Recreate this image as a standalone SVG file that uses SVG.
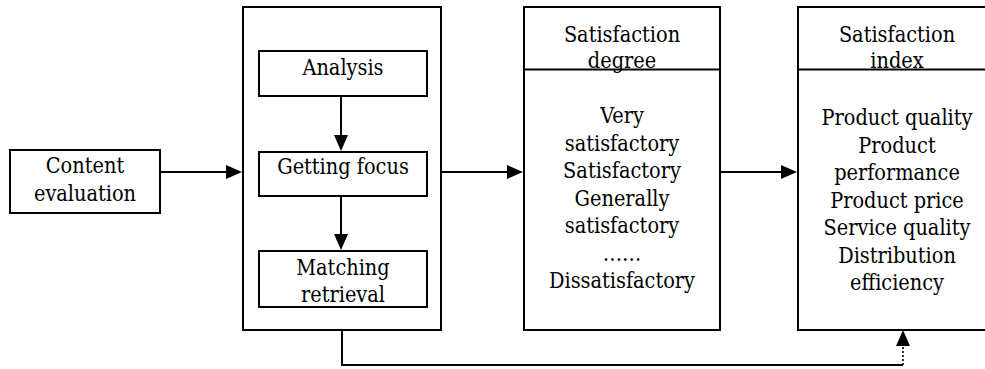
<svg xmlns="http://www.w3.org/2000/svg" width="985" height="369" viewBox="0 0 985 369">
  <style>
    .box { fill: #ffffff; stroke: #000000; stroke-width: 2; }
    .rule { stroke: #000000; stroke-width: 2; fill: none; }
    .conn { stroke: #000000; stroke-width: 2; fill: none; }
    .dotted { stroke: #000000; stroke-width: 1.6; fill: none; stroke-dasharray: 2 2; }
    text { font-family: 'DejaVu Serif Condensed', 'DejaVu Serif', serif; font-stretch: condensed; font-size: 21.5px; fill: #000000; text-anchor: middle; }
  </style>
  <defs>
    <marker id="arrow" viewBox="0 0 16 14" refX="0" refY="7" markerWidth="16" markerHeight="14" markerUnits="userSpaceOnUse" orient="auto">
      <path d="M0,0 L16,7 L0,14 Z" fill="#000000"/>
    </marker>
  </defs>

  <!-- Content evaluation -->
  <g id="content-evaluation">
    <rect class="box" x="10" y="150" width="150" height="63"/>
    <text x="85" y="173">Content</text>
    <text x="85" y="201">evaluation</text>
  </g>

  <!-- Processing stage with three steps -->
  <g id="processing">
    <rect class="box" x="243" y="7" width="198" height="323"/>
  </g>
  <g id="analysis">
    <rect class="box" x="259" y="51" width="168" height="45"/>
    <text x="343" y="75">Analysis</text>
  </g>
  <g id="getting-focus">
    <rect class="box" x="259" y="152" width="168" height="44"/>
    <text x="343" y="174">Getting focus</text>
  </g>
  <g id="matching-retrieval">
    <rect class="box" x="259" y="251" width="168" height="56"/>
    <text x="343" y="275">Matching</text>
    <text x="343" y="302">retrieval</text>
  </g>

  <!-- Satisfaction degree -->
  <g id="satisfaction-degree">
    <rect class="box" x="524" y="7" width="196" height="323"/>
    <line class="rule" x1="524" y1="69.5" x2="720" y2="69.5"/>
    <text x="622" y="42">Satisfaction</text>
    <text x="622" y="68">degree</text>
    <text x="622" y="123">Very</text>
    <text x="622" y="150.5">satisfactory</text>
    <text x="622" y="178">Satisfactory</text>
    <text x="622" y="205.5">Generally</text>
    <text x="622" y="233">satisfactory</text>
    <text x="622" y="260.5">……</text>
    <text x="622" y="288">Dissatisfactory</text>
  </g>

  <!-- Satisfaction index -->
  <g id="satisfaction-index">
    <rect class="box" x="798" y="7" width="196" height="323"/>
    <line class="rule" x1="798" y1="69.5" x2="994" y2="69.5"/>
    <text x="897" y="42">Satisfaction</text>
    <text x="897" y="68">index</text>
    <text x="897" y="125">Product quality</text>
    <text x="897" y="152.5">Product</text>
    <text x="897" y="180">performance</text>
    <text x="897" y="207.5">Product price</text>
    <text x="897" y="235">Service quality</text>
    <text x="897" y="262.5">Distribution</text>
    <text x="897" y="290">efficiency</text>
  </g>

  <!-- Connectors -->
  <g id="connectors">
    <line class="conn" x1="160" y1="172" x2="226" y2="172" marker-end="url(#arrow)"/>
    <line class="conn" x1="341" y1="96" x2="341" y2="135" marker-end="url(#arrow)"/>
    <line class="conn" x1="341" y1="196" x2="341" y2="234" marker-end="url(#arrow)"/>
    <line class="conn" x1="441" y1="172" x2="507" y2="172" marker-end="url(#arrow)"/>
    <line class="conn" x1="720" y1="172" x2="781" y2="172" marker-end="url(#arrow)"/>
    <path class="conn" d="M342,330 V365 H903"/>
    <line class="dotted" x1="903" y1="365" x2="903" y2="346" marker-end="url(#arrow)"/>
  </g>
</svg>
